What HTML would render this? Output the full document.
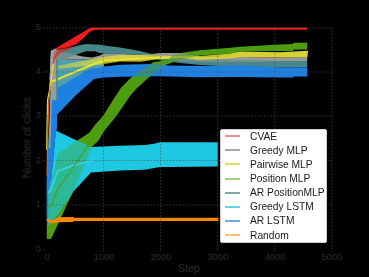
<!DOCTYPE html>
<html><head><meta charset="utf-8"><style>
html,body{margin:0;padding:0;background:#000;width:369px;height:277px;overflow:hidden}
body{position:relative;font-family:"Liberation Sans",sans-serif}
.yt{position:absolute;left:30px;width:11px;text-align:right;font-size:9.4px;line-height:12px;color:#262626;will-change:transform;font-weight:normal;-webkit-text-stroke:0.25px #262626}
.xt{position:absolute;top:250.6px;width:40px;text-align:center;font-size:9.3px;line-height:12px;color:#262626;will-change:transform;font-weight:normal;-webkit-text-stroke:0.25px #262626}
.leg{position:absolute;left:219.5px;top:128.6px;width:107.5px;height:114.9px;background:#fff;border-radius:2px;box-sizing:border-box;border:0.6px solid #d0d0d0}
.ll{position:absolute;left:225.2px;width:14.8px;height:2px}
.lt{position:absolute;left:250px;font-size:10.25px;line-height:12px;color:#1a1a1a;white-space:nowrap;will-change:transform}
.xl{position:absolute;left:159px;top:262px;width:60px;text-align:center;font-size:10.6px;line-height:13px;color:#262626;will-change:transform;font-weight:normal;-webkit-text-stroke:0.25px #262626}
.yl{position:absolute;left:-23px;top:130.9px;width:100px;white-space:nowrap;text-align:center;font-size:10.95px;line-height:13px;color:#262626;-webkit-text-stroke:0.25px #262626;transform:rotate(-90deg);font-weight:normal}
</style></head><body>
<svg width="369" height="277" viewBox="0 0 369 277" style="position:absolute;left:0;top:0"><defs><clipPath id="cBlue"><polygon points="46.6,219.0 46.6,182.0 48.5,140.0 52.5,96.0 57.6,67.0 104.0,66.5 120.0,64.7 150.0,64.0 170.0,65.6 200.0,66.0 240.0,65.4 280.0,67.3 307.3,67.5 307.3,76.6 293.5,76.6 293.0,77.5 280.0,77.5 240.0,77.0 200.0,77.2 160.0,76.2 120.0,76.7 104.0,77.5 94.0,79.0 75.0,96.0 62.0,109.7 57.0,114.8 57.0,128.0 54.9,140.0 51.2,180.0 48.5,219.0"/></clipPath><clipPath id="cCyan"><polygon points="47.6,226.0 48.5,216.0 48.5,190.0 51.2,180.0 54.9,140.0 56.3,130.7 77.2,140.8 91.0,147.0 120.0,145.7 145.7,144.9 155.2,143.6 160.0,142.2 215.0,142.2 217.8,142.6 217.8,166.3 215.0,166.5 171.5,167.1 160.0,167.1 144.4,169.8 120.0,170.6 91.0,172.5 73.8,190.9 67.4,200.0 57.5,214.4 47.6,226.0"/></clipPath><clipPath id="cGray"><polygon points="50.9,50.7 55.9,48.3 60.0,52.0 75.7,55.0 83.0,56.5 92.0,57.4 100.0,55.4 104.0,53.2 108.0,53.8 120.0,53.8 140.0,55.0 160.0,53.0 180.0,53.0 200.0,57.0 240.0,57.0 280.0,57.4 307.5,57.0 307.0,61.0 280.0,61.0 240.0,62.0 200.0,62.0 180.0,61.0 160.0,58.0 140.0,60.0 120.0,59.7 104.0,60.0 94.0,59.3 80.0,59.3 57.0,60.0 49.5,80.0"/></clipPath><clipPath id="cTGY"><polygon points="56.2,50.0 69.2,48.0 78.0,45.6 86.0,44.0 100.0,44.8 108.0,46.0 120.0,47.5 140.0,50.9 160.0,56.0 180.0,58.0 200.0,59.0 240.0,60.0 280.0,61.0 307.0,61.0 307.3,67.5 280.0,67.3 240.0,67.0 200.0,65.0 180.0,63.0 160.0,60.0 140.0,55.0 120.0,53.8 108.0,53.8 104.0,53.2 100.0,53.0 95.0,51.3 86.0,51.3 83.3,52.0 75.7,55.0 56.2,62.6"/><polygon points="50.9,50.7 55.9,48.3 60.0,52.0 75.7,55.0 83.0,56.5 92.0,57.4 100.0,55.4 104.0,53.2 108.0,53.8 120.0,53.8 140.0,55.0 160.0,53.0 180.0,53.0 200.0,57.0 240.0,57.0 280.0,57.4 307.5,57.0 307.0,61.0 280.0,61.0 240.0,62.0 200.0,62.0 180.0,61.0 160.0,58.0 140.0,60.0 120.0,59.7 104.0,60.0 94.0,59.3 80.0,59.3 57.0,60.0 49.5,80.0"/><polygon points="57.0,66.0 80.0,61.5 100.0,57.4 104.0,57.0 120.0,55.0 144.0,55.0 170.0,55.9 200.0,55.9 230.0,53.4 240.0,51.5 280.0,52.3 308.0,50.8 307.5,57.0 280.0,57.4 240.0,57.0 230.0,58.3 200.0,60.0 180.0,58.0 160.0,59.0 140.0,61.7 120.0,61.6 104.0,64.0 94.0,65.3 57.0,69.1"/></clipPath><linearGradient id="gY" gradientUnits="userSpaceOnUse" x1="57" y1="0" x2="308" y2="0"><stop offset="0" stop-color="#e2dc34" stop-opacity="0.55"/><stop offset="0.23" stop-color="#e2dc34" stop-opacity="0.8"/><stop offset="0.57" stop-color="#e2dc34" stop-opacity="0.82"/><stop offset="0.73" stop-color="#e2dc34" stop-opacity="0.95"/><stop offset="1" stop-color="#e2dc34" stop-opacity="0.95"/></linearGradient></defs><rect x="0" y="0" width="369" height="277" fill="#000"/><polygon points="46.8,225.0 48.5,214.0 48.5,190.0 52.7,180.0 57.8,153.8 76.5,141.0 84.0,136.3 89.5,132.5 95.5,124.3 99.5,120.0 103.6,115.0 115.0,97.0 120.8,88.0 131.7,77.0 137.3,73.0 146.0,67.3 153.2,62.3 160.0,61.2 180.0,53.0 200.0,50.2 230.0,47.7 240.0,46.7 280.0,44.5 293.0,44.1 293.5,42.8 307.3,42.8 307.3,49.4 293.5,49.4 293.0,50.9 280.0,50.9 240.0,51.3 230.0,53.4 200.0,55.5 180.0,60.0 165.0,65.0 159.0,69.5 149.3,77.0 137.1,88.0 130.0,96.0 116.4,116.0 104.9,130.0 98.2,141.1 91.7,147.1 72.9,192.0 69.2,200.0 51.2,238.7 46.8,239.0" fill="#4c9e10"/><polygon points="56.2,50.0 69.2,48.0 78.0,45.6 86.0,44.0 100.0,44.8 108.0,46.0 120.0,47.5 140.0,50.9 160.0,56.0 180.0,58.0 200.0,59.0 240.0,60.0 280.0,61.0 307.0,61.0 307.3,67.5 280.0,67.3 240.0,67.0 200.0,65.0 180.0,63.0 160.0,60.0 140.0,55.0 120.0,53.8 108.0,53.8 104.0,53.2 100.0,53.0 95.0,51.3 86.0,51.3 83.3,52.0 75.7,55.0 56.2,62.6" fill="#488789"/><polygon points="50.9,50.7 55.9,48.3 60.0,52.0 75.7,55.0 83.0,56.5 92.0,57.4 100.0,55.4 104.0,53.2 108.0,53.8 120.0,53.8 140.0,55.0 160.0,53.0 180.0,53.0 200.0,57.0 240.0,57.0 280.0,57.4 307.5,57.0 307.0,61.0 280.0,61.0 240.0,62.0 200.0,62.0 180.0,61.0 160.0,58.0 140.0,60.0 120.0,59.7 104.0,60.0 94.0,59.3 80.0,59.3 57.0,60.0 49.5,80.0" fill="#989a98"/><polygon points="56.2,50.0 69.2,48.0 78.0,45.6 86.0,44.0 100.0,44.8 108.0,46.0 120.0,47.5 140.0,50.9 160.0,56.0 180.0,58.0 200.0,59.0 240.0,60.0 280.0,61.0 307.0,61.0 307.3,67.5 280.0,67.3 240.0,67.0 200.0,65.0 180.0,63.0 160.0,60.0 140.0,55.0 120.0,53.8 108.0,53.8 104.0,53.2 100.0,53.0 95.0,51.3 86.0,51.3 83.3,52.0 75.7,55.0 56.2,62.6" fill="#488789" fill-opacity="0.5" clip-path="url(#cGray)"/><polygon points="46.6,219.0 46.6,182.0 48.5,140.0 52.5,96.0 57.6,67.0 104.0,66.5 120.0,64.7 150.0,64.0 170.0,65.6 200.0,66.0 240.0,65.4 280.0,67.3 307.3,67.5 307.3,76.6 293.5,76.6 293.0,77.5 280.0,77.5 240.0,77.0 200.0,77.2 160.0,76.2 120.0,76.7 104.0,77.5 94.0,79.0 75.0,96.0 62.0,109.7 57.0,114.8 57.0,128.0 54.9,140.0 51.2,180.0 48.5,219.0" fill="#1e80e1"/><polygon points="52.0,62.0 57.6,60.0 80.0,59.3 94.0,59.3 104.0,60.0 104.0,67.0 89.3,68.9 77.1,76.3 56.8,88.5 52.0,91.0" fill="#50a0af"/><polygon points="57.0,66.0 80.0,61.5 100.0,57.4 104.0,57.0 120.0,55.0 144.0,55.0 170.0,55.9 200.0,55.9 230.0,53.4 240.0,51.5 280.0,52.3 308.0,50.8 307.5,57.0 280.0,57.4 240.0,57.0 230.0,58.3 200.0,60.0 180.0,58.0 160.0,59.0 140.0,61.7 120.0,61.6 104.0,64.0 94.0,65.3 57.0,69.1" fill="url(#gY)"/><polygon points="46.8,225.0 48.5,214.0 48.5,190.0 52.7,180.0 57.8,153.8 76.5,141.0 84.0,136.3 89.5,132.5 95.5,124.3 99.5,120.0 103.6,115.0 115.0,97.0 120.8,88.0 131.7,77.0 137.3,73.0 146.0,67.3 153.2,62.3 160.0,61.2 180.0,53.0 200.0,50.2 230.0,47.7 240.0,46.7 280.0,44.5 293.0,44.1 293.5,42.8 307.3,42.8 307.3,49.4 293.5,49.4 293.0,50.9 280.0,50.9 240.0,51.3 230.0,53.4 200.0,55.5 180.0,60.0 165.0,65.0 159.0,69.5 149.3,77.0 137.1,88.0 130.0,96.0 116.4,116.0 104.9,130.0 98.2,141.1 91.7,147.1 72.9,192.0 69.2,200.0 51.2,238.7 46.8,239.0" fill="#4c9e10" fill-opacity="0.5" clip-path="url(#cTGY)"/><polygon points="56.5,47.7 88.7,28.7 91.5,27.6 307.0,27.6 307.0,29.8 95.0,29.8 90.0,31.5 83.2,38.2 76.5,44.3 68.3,47.0 56.0,49.3" fill="#f01c20"/><polygon points="51.0,64.0 56.0,49.0 68.1,46.3 72.0,47.0 58.0,55.0 53.0,66.0" fill="#f01c20" fill-opacity="0.45"/><polygon points="46.8,225.0 48.5,214.0 48.5,190.0 52.7,180.0 57.8,153.8 76.5,141.0 84.0,136.3 89.5,132.5 95.5,124.3 99.5,120.0 103.6,115.0 115.0,97.0 120.8,88.0 131.7,77.0 137.3,73.0 146.0,67.3 153.2,62.3 160.0,61.2 180.0,53.0 200.0,50.2 230.0,47.7 240.0,46.7 280.0,44.5 293.0,44.1 293.5,42.8 307.3,42.8 307.3,49.4 293.5,49.4 293.0,50.9 280.0,50.9 240.0,51.3 230.0,53.4 200.0,55.5 180.0,60.0 165.0,65.0 159.0,69.5 149.3,77.0 137.1,88.0 130.0,96.0 116.4,116.0 104.9,130.0 98.2,141.1 91.7,147.1 72.9,192.0 69.2,200.0 51.2,238.7 46.8,239.0" fill="#34907f" clip-path="url(#cBlue)"/><polygon points="47.6,226.0 48.5,216.0 48.5,190.0 51.2,180.0 54.9,140.0 56.3,130.7 77.2,140.8 91.0,147.0 120.0,145.7 145.7,144.9 155.2,143.6 160.0,142.2 215.0,142.2 217.8,142.6 217.8,166.3 215.0,166.5 171.5,167.1 160.0,167.1 144.4,169.8 120.0,170.6 91.0,172.5 73.8,190.9 67.4,200.0 57.5,214.4 47.6,226.0" fill="#1ec8e2"/><polygon points="46.8,225.0 48.5,214.0 48.5,190.0 52.7,180.0 57.8,153.8 76.5,141.0 84.0,136.3 89.5,132.5 95.5,124.3 99.5,120.0 103.6,115.0 115.0,97.0 120.8,88.0 131.7,77.0 137.3,73.0 146.0,67.3 153.2,62.3 160.0,61.2 180.0,53.0 200.0,50.2 230.0,47.7 240.0,46.7 280.0,44.5 293.0,44.1 293.5,42.8 307.3,42.8 307.3,49.4 293.5,49.4 293.0,50.9 280.0,50.9 240.0,51.3 230.0,53.4 200.0,55.5 180.0,60.0 165.0,65.0 159.0,69.5 149.3,77.0 137.1,88.0 130.0,96.0 116.4,116.0 104.9,130.0 98.2,141.1 91.7,147.1 72.9,192.0 69.2,200.0 51.2,238.7 46.8,239.0" fill="#2db996" clip-path="url(#cCyan)"/><polygon points="46.6,218.5 52.0,220.5 58.4,217.2 72.8,217.0 73.8,217.8 218.5,217.8 218.5,221.0 73.8,221.0 72.8,222.0 58.4,222.2 52.0,223.5 46.6,221.2" fill="#ff8700"/><polygon points="51.5,62.0 57.0,62.0 57.0,100.0 50.6,100.0" fill="#8fa09c"/><polygon points="51.6,60.0 57.0,58.0 57.0,86.0 49.8,86.0" fill="#a09c94"/><polygon points="50.9,50.7 52.5,50.0 51.6,90.0 49.2,90.0" fill="#a8a8a8"/><polyline points="51.4,90.0 50.4,120.0 49.4,148.0" fill="none" stroke="#7fa6c8" stroke-width="1.8"/><polyline points="46.8,150.0 46.9,136.0 47.6,100.0 49.6,90.0 52.7,70.0 53.2,64.0" fill="none" stroke="#e2dc34" stroke-width="1.3"/><polyline points="47.1,176.0 47.6,140.0 48.7,104.0 50.2,86.0" fill="none" stroke="#e0622a" stroke-width="1.2"/><polyline points="52.0,81.7 94.0,64.0 104.0,60.8 144.0,58.4 170.0,57.5" fill="none" stroke="#e6e632" stroke-width="1.9"/><polyline points="47.6,192.7 50.5,191.3 57.7,171.0 72.0,166.0 84.0,162.7 94.0,160.0" fill="none" stroke="#3ad6ee" stroke-width="1.5"/><polyline points="47.6,207.5 51.2,205.7 57.5,189.5 74.3,166.0 87.4,146.6 94.0,144.5" fill="none" stroke="#46a030" stroke-width="1.3"/><line x1="57" y1="59" x2="57" y2="100" stroke="#488789" stroke-width="1.6"/><polyline points="52.9,63.6 55.5,56.7 59.0,52.4 66.0,49.8 72.0,47.5" fill="none" stroke="#f01c20" stroke-width="1.3" stroke-opacity="0.75"/><line x1="103.6" y1="27" x2="103.6" y2="252" stroke="rgba(84,84,84,0.62)" stroke-width="1" stroke-dasharray="1.6,1.65"/><line x1="160.6" y1="27" x2="160.6" y2="252" stroke="rgba(84,84,84,0.62)" stroke-width="1" stroke-dasharray="1.6,1.65"/><line x1="217.7" y1="27" x2="217.7" y2="252" stroke="rgba(84,84,84,0.62)" stroke-width="1" stroke-dasharray="1.6,1.65"/><line x1="274.8" y1="27" x2="274.8" y2="252" stroke="rgba(84,84,84,0.62)" stroke-width="1" stroke-dasharray="1.6,1.65"/><line x1="331.9" y1="27" x2="331.9" y2="252" stroke="rgba(84,84,84,0.62)" stroke-width="1" stroke-dasharray="1.6,1.65"/><line x1="43" y1="249.5" x2="46.5" y2="249.5" stroke="rgba(84,84,84,0.62)" stroke-width="1" stroke-dasharray="1.6,1.65"/><line x1="43" y1="205.0" x2="332" y2="205.0" stroke="rgba(84,84,84,0.62)" stroke-width="1" stroke-dasharray="1.6,1.65"/><line x1="43" y1="160.5" x2="332" y2="160.5" stroke="rgba(84,84,84,0.62)" stroke-width="1" stroke-dasharray="1.6,1.65"/><line x1="43" y1="116.1" x2="332" y2="116.1" stroke="rgba(84,84,84,0.62)" stroke-width="1" stroke-dasharray="1.6,1.65"/><line x1="43" y1="72.0" x2="332" y2="72.0" stroke="rgba(84,84,84,0.62)" stroke-width="1" stroke-dasharray="1.6,1.65"/><line x1="43" y1="28.0" x2="332" y2="28.0" stroke="rgba(84,84,84,0.62)" stroke-width="1" stroke-dasharray="1.6,1.65"/></svg>
<div class="yt" style="top:242.5px">0</div><div class="yt" style="top:198.1px">1</div><div class="yt" style="top:153.7px">2</div><div class="yt" style="top:109.3px">3</div><div class="yt" style="top:64.9px">4</div><div class="yt" style="top:20.5px">5</div><div class="xt" style="left:26.6px">0</div><div class="xt" style="left:83.6px">1000</div><div class="xt" style="left:140.6px">2000</div><div class="xt" style="left:197.6px">3000</div><div class="xt" style="left:254.6px">4000</div><div class="xt" style="left:311.6px">5000</div>
<div class="leg"></div>
<div class="ll" style="top:135.2px;background:#f28c8f"></div><div class="lt" style="top:130.8px">CVAE</div><div class="ll" style="top:149.3px;background:#a8a8a8"></div><div class="lt" style="top:144.9px">Greedy MLP</div><div class="ll" style="top:163.4px;background:#e4de50"></div><div class="lt" style="top:159.0px">Pairwise MLP</div><div class="ll" style="top:177.5px;background:#a0d080"></div><div class="lt" style="top:173.1px">Position MLP</div><div class="ll" style="top:191.6px;background:#7fa8a8"></div><div class="lt" style="top:187.2px">AR PositionMLP</div><div class="ll" style="top:205.7px;background:#5fd4ec"></div><div class="lt" style="top:201.3px">Greedy LSTM</div><div class="ll" style="top:219.8px;background:#6aa8ea"></div><div class="lt" style="top:215.4px">AR LSTM</div><div class="ll" style="top:233.9px;background:#ffbe7a"></div><div class="lt" style="top:229.5px">Random</div>
<div class="xl">Step</div>
<div class="yl">Number of clicks</div>
</body></html>
